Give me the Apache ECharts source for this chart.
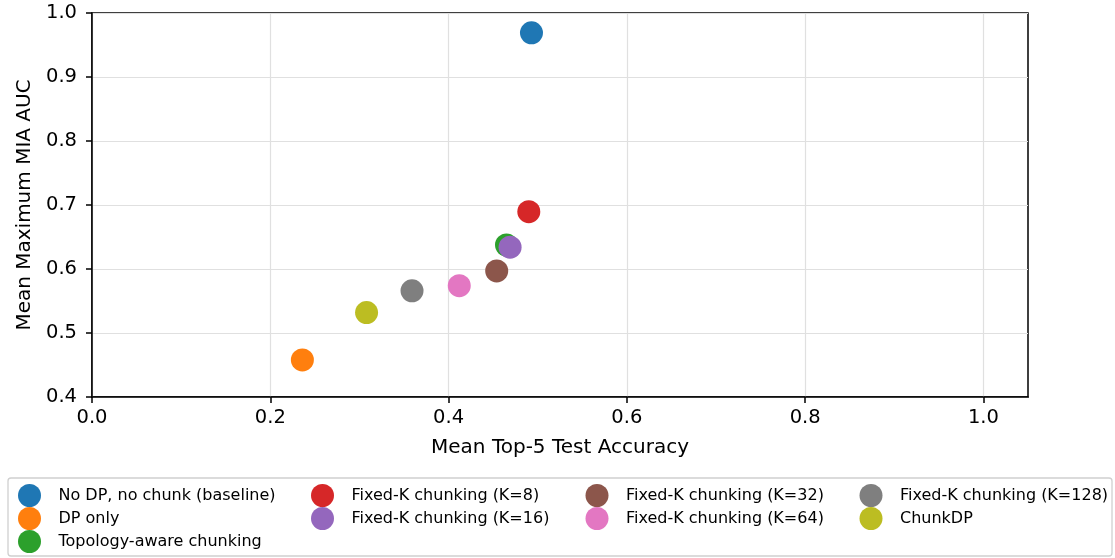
<!DOCTYPE html>
<html>
<head>
<meta charset="utf-8">
<script src="https://cdn.jsdelivr.net/npm/echarts@6/dist/echarts.min.js"></script>
<style>
  html, body { margin: 0; padding: 0; background: #fff; }
  #chart { width: 1115px; height: 558px; }
</style>
</head>
<body>
<div id="chart"></div>
<script>
// Methods compared: privacy attack AUC vs. utility
const methods = [
  'No DP, no chunk (baseline)',
  'DP only',
  'Topology-aware chunking',
  'Fixed-K chunking (K=8)',
  'Fixed-K chunking (K=16)',
  'Fixed-K chunking (K=32)',
  'Fixed-K chunking (K=64)',
  'Fixed-K chunking (K=128)',
  'ChunkDP'
];
const top5Accuracy = [0.493, 0.236, 0.465, 0.490, 0.469, 0.454, 0.412, 0.359, 0.308];
const maxMiaAuc    = [0.969, 0.458, 0.6375, 0.6895, 0.634, 0.597, 0.574, 0.566, 0.532];
const colors = ['#1f77b4', '#ff7f0e', '#2ca02c', '#d62728', '#9467bd',
                '#8c564b', '#e377c2', '#7f7f7f', '#bcbd22'];
const xTicks = [0.0, 0.2, 0.4, 0.6, 0.8, 1.0];
const yTicks = [0.4, 0.5, 0.6, 0.7, 0.8, 0.9, 1.0];
// Legend columns (filled top to bottom)
const legendColumns = [
  [0, 1, 2],
  [3, 4],
  [5, 6],
  [7, 8]
];

const FONT = 'DejaVu Sans';
const chart = echarts.init(document.getElementById('chart'), null, { renderer: 'canvas' });

const series = methods.map((name, i) => ({
  name: name,
  type: 'scatter',
  symbol: 'circle',
  symbolSize: 23,
  itemStyle: { color: colors[i], opacity: 1 },
  emphasis: { disabled: true },
  data: [[top5Accuracy[i], maxMiaAuc[i]]]
}));

const legendLefts = [18, 311, 585.5, 859.5];
const legends = legendColumns.map((col, c) => ({
  orient: 'vertical',
  left: legendLefts[c],
  top: 484,
  height: 80,
  padding: 0,
  icon: 'circle',
  itemWidth: 23,
  itemHeight: 23,
  itemGap: 0,
  selectedMode: false,
  textStyle: { fontFamily: FONT, fontSize: 16, color: '#000', padding: [0, 0, 0, 12.5] },
  data: col.map(i => methods[i])
}));

const axisText = { fontFamily: FONT, fontSize: 20, color: '#000' };
const tickText = { fontFamily: FONT, fontSize: 19.5, color: '#000' };

chart.setOption({
  animation: false,
  backgroundColor: '#fff',
  grid: {
    left: 92, right: 87, top: 13, bottom: 161,
    show: true, borderColor: '#000', borderWidth: 1.5, backgroundColor: 'transparent'
  },
  legend: legends,
  graphic: [{
    type: 'rect',
    shape: { x: 8, y: 478, width: 1104, height: 78, r: 3 },
    style: { fill: 'none', stroke: '#d0d0d0', lineWidth: 1.3 },
    z: -1
  }],
  xAxis: {
    type: 'value',
    min: 0, max: 1.05, interval: 0.2,
    name: 'Mean Top-5 Test Accuracy',
    nameLocation: 'middle',
    nameGap: 41,
    nameTextStyle: axisText,
    axisLine: { show: true, onZero: false, lineStyle: { color: '#000', width: 1.5 } },
    axisTick: { show: true, inside: false, length: 6, customValues: xTicks, lineStyle: { color: '#000', width: 1.5 } },
    axisLabel: { customValues: xTicks, margin: 11, formatter: v => v.toFixed(1), ...tickText },
    splitLine: { show: true, lineStyle: { color: '#e0e0e0', width: 1.2 } }
  },
  yAxis: {
    type: 'value',
    min: 0.4, max: 1.0, interval: 0.1,
    name: 'Mean Maximum MIA AUC',
    nameLocation: 'middle',
    nameGap: 54,
    nameTextStyle: axisText,
    axisLine: { show: true, onZero: false, lineStyle: { color: '#000', width: 1.5 } },
    axisTick: { show: true, inside: false, length: 6, customValues: yTicks, lineStyle: { color: '#000', width: 1.5 } },
    axisLabel: { customValues: yTicks, margin: 15, formatter: v => v.toFixed(1), ...tickText },
    splitLine: { show: true, lineStyle: { color: '#e0e0e0', width: 1.2 } }
  },
  series: series
});
</script>
</body>
</html>
